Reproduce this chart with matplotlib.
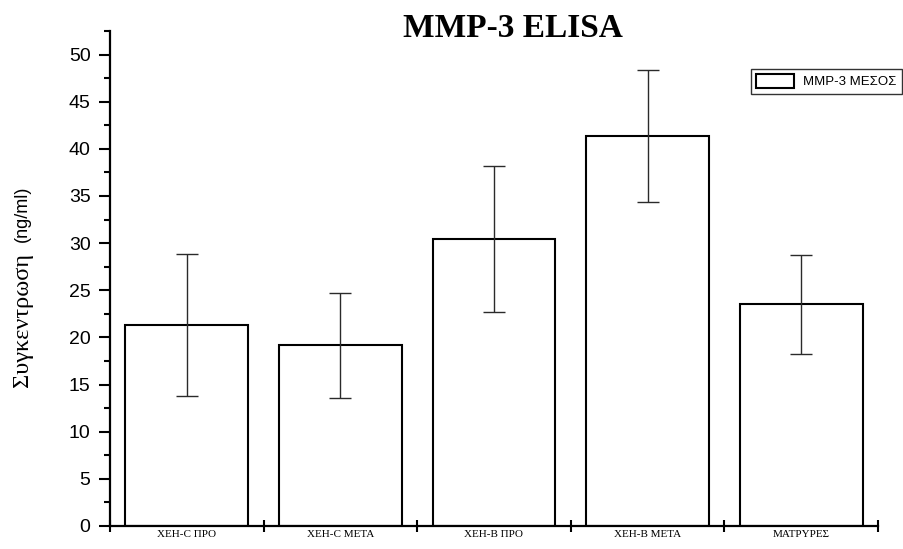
import numpy as np
import matplotlib
matplotlib.use("Agg")
import matplotlib.pyplot as plt
from matplotlib.ticker import MultipleLocator, FixedLocator, NullFormatter

# MMP-3 concentrations (ng/ml), mean and error per group
groups = ["ΧΕΗ-C ΠΡΟ", "ΧΕΗ-C ΜΕΤΑ", "ΧΕΗ-B ΠΡΟ", "ΧΕΗ-B ΜΕΤΑ", "ΜΑΤΡΥΡΕΣ"]
mmp3_mean = [21.35, 19.15, 30.45, 41.4, 23.5]
mmp3_err = [7.55, 5.57, 7.75, 7.0, 5.28]

plt.rcParams["font.family"] = ["Liberation Sans", "DejaVu Sans"]

fig = plt.figure(figsize=(9.04, 5.49), dpi=100)
ax = fig.add_axes([110 / 904, 1 - 526 / 549, 768 / 904, 495 / 549])

x = np.arange(len(groups))
ax.bar(x, mmp3_mean, width=0.8, color="white", edgecolor="black",
       linewidth=1.5, label="MMP-3 ΜΕΣΟΣ", zorder=2)
ax.errorbar(x, mmp3_mean, yerr=mmp3_err, fmt="none", ecolor="#2a2a2a",
            elinewidth=1.0, capsize=8, capthick=1.0, zorder=3)

ax.set_xlim(-0.5, len(groups) - 0.5)
ax.set_ylim(0, 52.5)

for side in ["top", "right"]:
    ax.spines[side].set_visible(False)
for side in ["left", "bottom"]:
    ax.spines[side].set_linewidth(1.6)

# y axis: labelled every 5, minor every 2.5
ax.yaxis.set_major_locator(MultipleLocator(5))
ax.yaxis.set_minor_locator(MultipleLocator(2.5))
ax.tick_params(axis="y", which="major", direction="out", length=8, width=1.5,
               labelsize=14, pad=6)
ax.tick_params(axis="y", which="minor", direction="out", length=4, width=1.5)

# x axis: ticks between groups, labels under the bars
ax.xaxis.set_major_locator(FixedLocator(np.arange(len(groups) + 1) - 0.5))
ax.xaxis.set_major_formatter(NullFormatter())
ax.xaxis.set_minor_locator(FixedLocator(x))
ax.set_xticklabels(groups, minor=True)
ax.tick_params(axis="x", which="major", direction="inout", length=9, width=1.5)
ax.tick_params(axis="x", which="minor", direction="in", length=2, width=1,
               labelsize=8, pad=3)
for lbl in ax.get_xticklabels(minor=True):
    lbl.set_family(["Liberation Serif", "DejaVu Serif"])

# title and y label
fig.text(513 / 904, 1 - 37 / 549, "MMP-3 ELISA", ha="center", va="baseline",
         fontsize=24, fontweight="bold", family=["Liberation Serif"])
fig.text(23 / 904, 1 - 387 / 549, "Συγκεντρωση", rotation=90, ha="center",
         va="bottom", fontsize=17.5, family=["Liberation Serif"])
fig.text(22 / 904, 1 - 242 / 549, "(ng/ml)", rotation=90, ha="center",
         va="bottom", fontsize=13, family=["Liberation Sans"])

leg = fig.legend(loc="upper right", bbox_to_anchor=(902 / 904, 1 - 69 / 549),
                 fancybox=False, frameon=True, edgecolor="black",
                 fontsize=9.5, handlelength=2.9, handleheight=1.2,
                 borderpad=0.4, handletextpad=0.7, borderaxespad=0)
leg.get_frame().set_linewidth(1.0)

fig.savefig("out.png", dpi=100)
